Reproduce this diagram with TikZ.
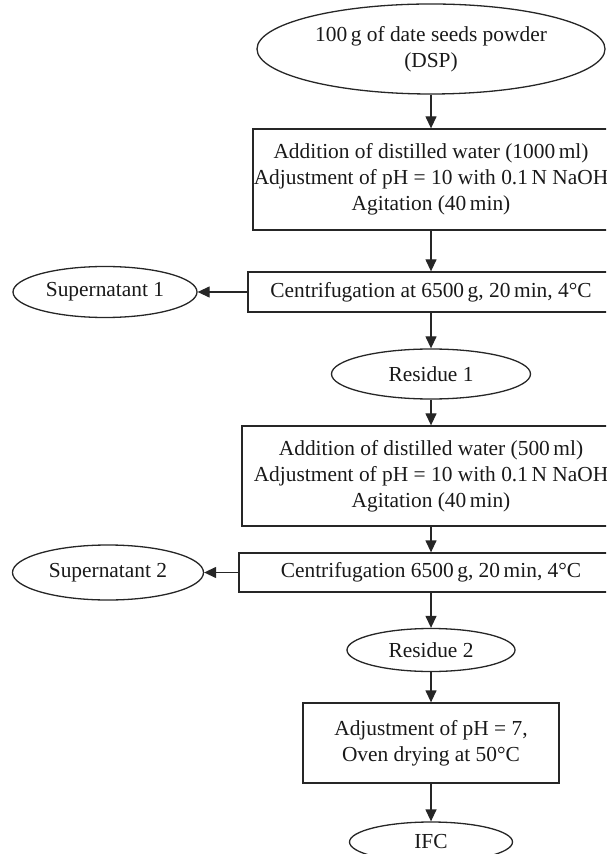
\documentclass[tikz,border=0pt]{standalone}
\usepackage{fontspec}
\setmainfont{Liberation Serif}
\usetikzlibrary{shapes.geometric,arrows.meta}
\tikzset{
  stepbox/.style={draw,rectangle,inner sep=0pt,align=center},
  oval/.style={draw,ellipse,inner sep=0pt,align=center},
  flow/.style={-{Triangle[length=6pt,width=5.5pt]}}
}
\begin{document}
\begin{tikzpicture}[x=0.5pt,y=-0.5pt,line width=0.65pt,draw=black!85,text=black!90,
  font=\fontsize{10.7}{13}\selectfont]
                \useasboundingbox (0,0) rectangle (606,854);
                \clip (0,0) rectangle (606,854);
                \node[oval,minimum width=174pt,minimum height=45pt] (dsp) at (431,49) {100\,g of date seeds powder\\(DSP)};
                \node[stepbox,minimum width=178pt,minimum height=50.5pt] (add1) at (431,179.5) {Addition of distilled water (1000\,ml)\\Adjustment of pH = 10 with 0.1\,N NaOH\\Agitation (40\,min)};
                \node[stepbox,minimum width=183pt,minimum height=20pt] (cent1) at (431,292) {Centrifugation at 6500\,g, 20\,min, 4°C};
                \node[oval,minimum width=92pt,minimum height=25.5pt] (sup1) at (105,292) {Supernatant 1};
                \node[oval,minimum width=99.5pt,minimum height=25pt] (res1) at (431,374) {Residue 1};
                \node[stepbox,minimum width=189pt,minimum height=50pt] (add2) at (431,476) {Addition of distilled water (500\,ml)\\Adjustment of pH = 10 with 0.1\,N NaOH\\Agitation (40\,min)};
                \node[stepbox,minimum width=192pt,minimum height=19.5pt] (cent2) at (431,572.5) {Centrifugation 6500\,g, 20\,min, 4°C};
                \node[oval,minimum width=95.5pt,minimum height=27.5pt] (sup2) at (108,572.5) {Supernatant 2};
                \node[oval,minimum width=84pt,minimum height=21.5pt] (res2) at (431,650) {Residue 2};
                \node[stepbox,minimum width=128pt,minimum height=40pt] (dry) at (431,743) {Adjustment of pH = 7,\\Oven drying at 50°C};
                \node[oval,minimum width=81.5pt,minimum height=20pt] (ifc) at (431,842) {IFC};
                \draw[flow] (dsp) -- (add1);
                \draw[flow] (add1) -- (cent1);
                \draw[flow] (cent1) -- (sup1);
                \draw[flow] (cent1) -- (res1);
                \draw[flow] (res1) -- (add2);
                \draw[flow] (add2) -- (cent2);
                \draw[flow] (cent2) -- (sup2);
                \draw[flow] (cent2) -- (res2);
                \draw[flow] (res2) -- (dry);
                \draw[flow] (dry) -- (ifc);
                \end{tikzpicture}
\end{document}
